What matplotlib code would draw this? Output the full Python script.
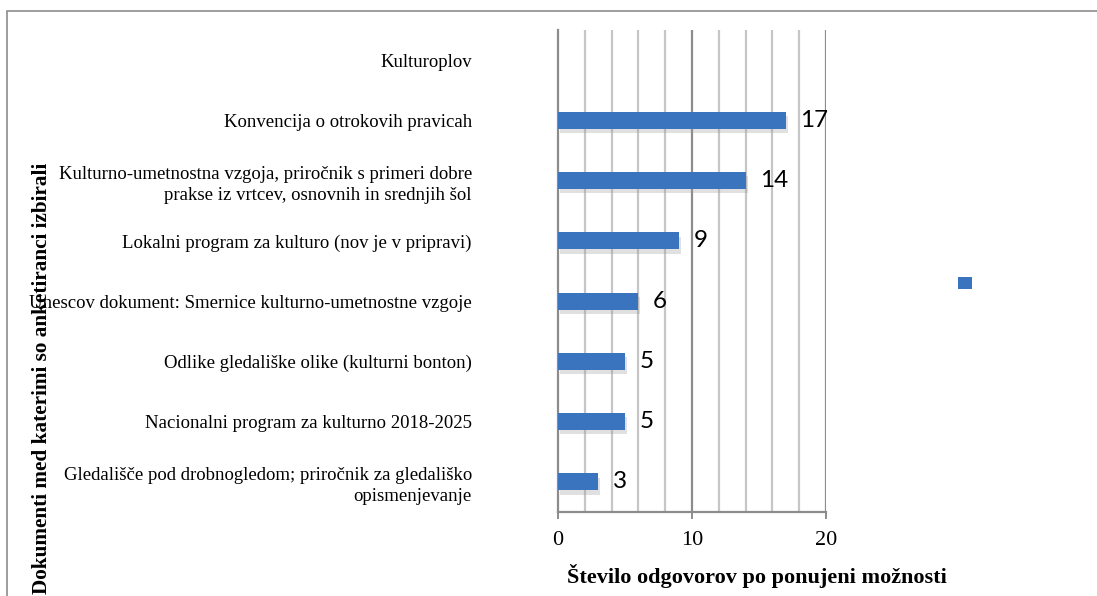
import numpy as np
import matplotlib
matplotlib.use('Agg')
from matplotlib import pyplot as plt
from matplotlib.patches import Rectangle, Patch

categories = [
    'Kulturoplov',
    'Konvencija o otrokovih pravicah',
    'Kulturno-umetnostna vzgoja, priročnik s primeri dobre\nprakse iz vrtcev, osnovnih in srednjih šol',
    'Lokalni program za kulturo (nov je v pripravi)',
    'Unescov dokument: Smernice kulturno-umetnostne vzgoje',
    'Odlike gledališke olike (kulturni bonton)',
    'Nacionalni program za kulturno 2018-2025',
    'Gledališče pod drobnogledom; priročnik za gledališko\nopismenjevanje',
]
values = [0, 17, 14, 9, 6, 5, 5, 3]
xticks = [0, 10, 20]

W, H = 1097, 596
fig = plt.figure(figsize=(W / 100, H / 100), dpi=100)
ax = fig.add_axes([558 / W, 1 - 512 / H, (826 - 558) / W, (512 - 30) / H])

y = np.arange(len(categories))
bar_h = 0.28

# soft shadow then the bar
ax.barh(y + 0.07, values, height=bar_h, left=0.15, color='#9a9a9a', alpha=0.3,
        zorder=2, linewidth=0)
bars = ax.barh(y, values, height=bar_h, color='#3A74BF', linewidth=0, zorder=3)

for yi, v in zip(y, values):
    if v > 0:
        ax.text(v + 1.1, yi, str(v), va='center', ha='left', fontsize=17.5,
                family='Lato', color='black', zorder=4)

ax.set_xlim(0, 20)
ax.set_ylim(len(categories) - 0.5, -0.5)

# grid: light minor lines every 2, darker major lines every 10
for gx in np.arange(2, 20, 2):
    if gx % 10:
        ax.axvline(gx, color='#c6c6c6', lw=1.6, zorder=1)
for gx in xticks[1:]:
    ax.axvline(gx, color='#8c8c8c', lw=1.6, zorder=1)

for s in ['top', 'right']:
    ax.spines[s].set_visible(False)
ax.spines['left'].set_color('#8c8c8c')
ax.spines['left'].set_linewidth(1.6)
ax.spines['bottom'].set_color('#8c8c8c')
ax.spines['bottom'].set_linewidth(1.6)

ax.set_xticks(xticks)
ax.set_xticklabels([str(t) for t in xticks], family='Liberation Serif', fontsize=16)
ax.tick_params(axis='x', length=5, width=1.4, color='#8c8c8c', pad=9)
ax.set_yticks(y)
ax.set_yticklabels(categories, family='Liberation Serif', fontsize=13.5,
                   multialignment='right', linespacing=1.35)
ax.tick_params(axis='y', length=0, pad=62)

fig.text(757 / W, 1 - 576 / H, 'Število odgovorov po ponujeni možnosti',
         ha='center', va='center', family='Liberation Serif', fontsize=16,
         fontweight='bold')
fig.text(42 / W, 1 - 163 / H, 'Dokumenti med katerimi so anketiranci izbirali',
         ha='center', va='top', rotation=90, family='Liberation Serif',
         fontsize=15.3, fontweight='bold')

# legend with a single empty entry
fig.legend(handles=[Patch(facecolor='#3A74BF', edgecolor='none')], labels=[''],
           loc='center', bbox_to_anchor=(965 / W, 1 - 284 / H), frameon=False,
           handlelength=1.0, handleheight=1.0, handletextpad=0, borderpad=0)

# outer chart frame
fig.patches.append(Rectangle((7 / W, -0.2), 1.2, 1 - 11 / H + 0.2, transform=fig.transFigure,
                             fill=False, edgecolor='#8c8c8c', lw=1.2))

fig.savefig('out.png', dpi=100)
